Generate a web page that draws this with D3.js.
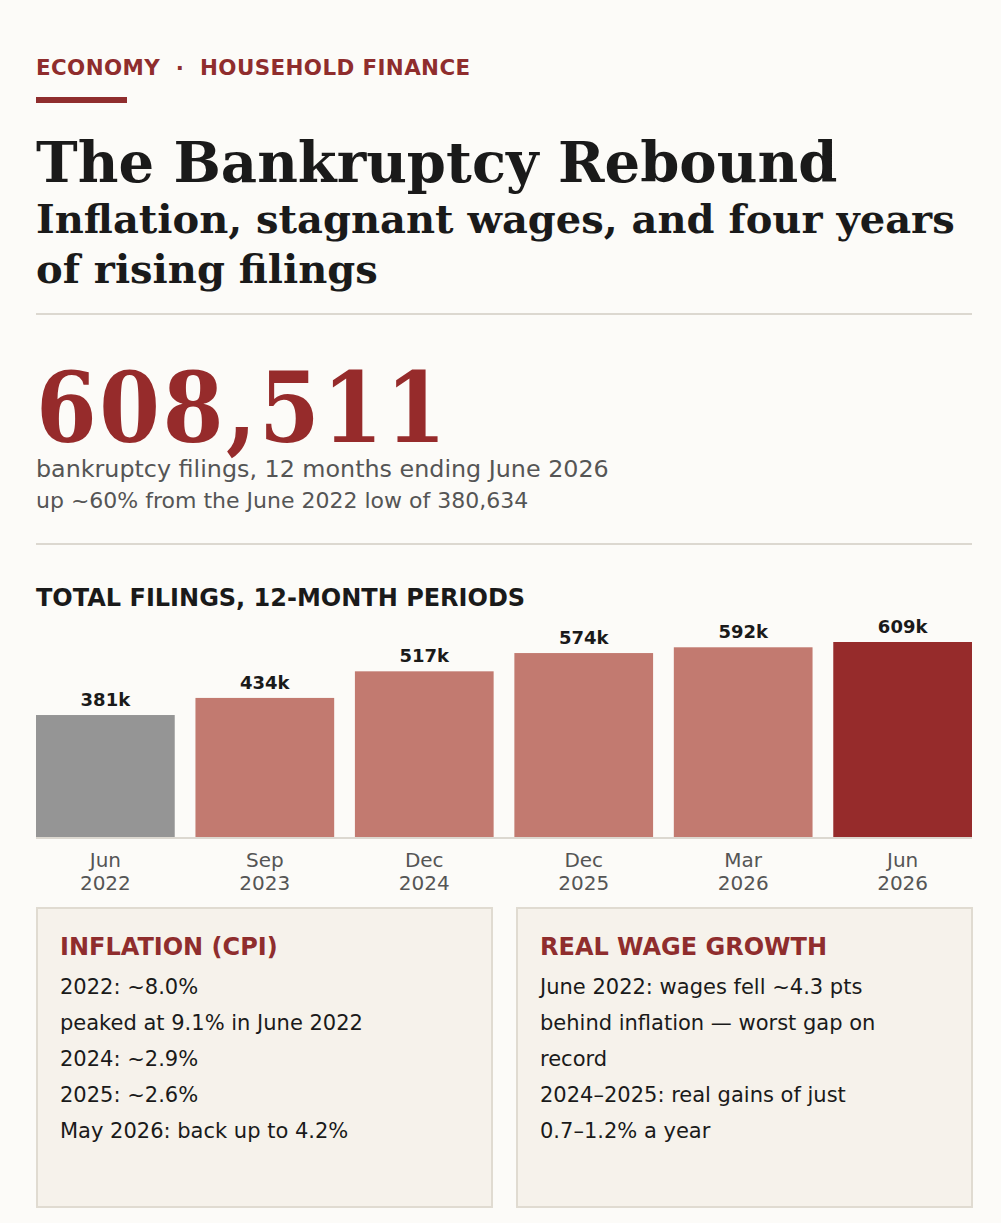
<!DOCTYPE html>
<html>
<head>
<meta charset="utf-8">
<script src="https://cdn.jsdelivr.net/npm/d3@7"></script>
<style>
  html, body { margin: 0; padding: 0; background: #fcfbf8; }
  svg { display: block; }
  .sans { font-family: "DejaVu Sans", sans-serif; }
  .serif { font-family: "DejaVu Serif", serif; }
</style>
</head>
<body>
<svg></svg>
<script>
const periods = ['Jun 2022', 'Sep 2023', 'Dec 2024', 'Dec 2025', 'Mar 2026', 'Jun 2026']
const filings = [380634, 434000, 517000, 574000, 592000, 608511]
const barLabels = ['381k', '434k', '517k', '574k', '592k', '609k']

const inflationNotes = [
  '2022: ~8.0%',
  'peaked at 9.1% in June 2022',
  '2024: ~2.9%',
  '2025: ~2.6%',
  'May 2026: back up to 4.2%'
]
const wageNotes = [
  'June 2022: wages fell ~4.3 pts behind inflation \u2014 worst gap on record',
  '2024\u20132025: real gains of just 0.7\u20131.2% a year'
]

const width = 1001
const height = 1223
const left = 36
const right = 972
const red = '#962b2b'
const ink = '#1a1a1a'

const svg = d3.select('svg')
  .attr('width', width)
  .attr('height', height)

svg.append('rect')
  .attr('width', width)
  .attr('height', height)
  .attr('fill', '#fcfbf8')

// Kicker + accent bar
svg.append('text')
  .attr('class', 'sans')
  .attr('x', left).attr('y', 75)
  .attr('font-size', 21.4).attr('font-weight', 'bold')
  .attr('fill', '#8f2d2d')
  .attr('letter-spacing', 0.4)
  .style('white-space', 'pre')
  .text('ECONOMY  \u00b7  HOUSEHOLD FINANCE')

svg.append('rect')
  .attr('x', left).attr('y', 97)
  .attr('width', 91).attr('height', 6)
  .attr('fill', '#8f2d2d')

// Headline
svg.append('text')
  .attr('class', 'serif')
  .attr('x', left).attr('y', 182)
  .attr('font-size', 56).attr('font-weight', 'bold')
  .attr('fill', ink)
  .text('The Bankruptcy Rebound')

const sub = svg.append('text')
  .attr('class', 'serif')
  .attr('font-size', 40).attr('font-weight', 'bold')
  .attr('fill', ink)
sub.append('tspan').attr('x', left).attr('y', 233)
  .text('Inflation, stagnant wages, and four years')
sub.append('tspan').attr('x', left).attr('y', 283)
  .text('of rising filings')

svg.append('line')
  .attr('x1', left).attr('x2', right)
  .attr('y1', 314).attr('y2', 314)
  .attr('stroke', '#dcd8d0').attr('stroke-width', 2)

// Big number
svg.append('text')
  .attr('class', 'serif')
  .attr('x', left).attr('y', 442)
  .attr('font-size', 97).attr('font-weight', 'bold')
  .attr('letter-spacing', 2.6)
  .style('font-stretch', 'condensed')
  .attr('fill', red)
  .text(d3.format(',')(filings[filings.length - 1]))

svg.append('text')
  .attr('class', 'sans')
  .attr('x', left).attr('y', 477)
  .attr('font-size', 23.8)
  .attr('fill', '#555')
  .text('bankruptcy filings, 12 months ending June 2026')

svg.append('text')
  .attr('class', 'sans')
  .attr('x', left).attr('y', 508)
  .attr('font-size', 22)
  .attr('fill', '#555')
  .text('up ~60% from the June 2022 low of ' + d3.format(',')(filings[0]))

svg.append('line')
  .attr('x1', left).attr('x2', right)
  .attr('y1', 544).attr('y2', 544)
  .attr('stroke', '#dcd8d0').attr('stroke-width', 2)

// Chart title
svg.append('text')
  .attr('class', 'sans')
  .attr('x', left).attr('y', 606)
  .attr('font-size', 24).attr('font-weight', 'bold')
  .attr('fill', ink)
  .text('TOTAL FILINGS, 12-MONTH PERIODS')

// Bar chart
const baseY = 837
const x = d3.scaleBand().domain(periods).range([left, right]).paddingInner(0.13).paddingOuter(0)
const y = d3.scaleLinear().domain([0, d3.max(filings)]).range([baseY, 642])

const colorFor = (i) => i === 0 ? '#959595' : (i === filings.length - 1 ? red : '#c27a70')

const g = svg.append('g')

g.selectAll('.bar')
  .data(filings)
  .enter().append('rect')
  .attr('class', 'bar')
  .attr('x', (d, i) => x(periods[i]))
  .attr('y', (d) => y(d))
  .attr('width', x.bandwidth())
  .attr('height', (d) => baseY - y(d))
  .attr('fill', (d, i) => colorFor(i))

g.selectAll('.val')
  .data(filings)
  .enter().append('text')
  .attr('class', 'val sans')
  .attr('x', (d, i) => x(periods[i]) + x.bandwidth() / 2)
  .attr('y', (d) => y(d) - 9)
  .attr('text-anchor', 'middle')
  .attr('font-size', 18).attr('font-weight', 'bold')
  .attr('fill', ink)
  .text((d, i) => barLabels[i])

g.append('line')
  .attr('x1', left).attr('x2', right)
  .attr('y1', baseY + 1).attr('y2', baseY + 1)
  .attr('stroke', '#dcd8d0').attr('stroke-width', 2)

// Period labels on two lines
const tick = g.selectAll('.tick')
  .data(periods)
  .enter().append('text')
  .attr('class', 'tick sans')
  .attr('text-anchor', 'middle')
  .attr('font-size', 20)
  .attr('fill', '#555')
tick.append('tspan')
  .attr('x', (d) => x(d) + x.bandwidth() / 2)
  .attr('y', 867)
  .text((d) => d.split(' ')[0])
tick.append('tspan')
  .attr('x', (d) => x(d) + x.bandwidth() / 2)
  .attr('y', 890)
  .text((d) => d.split(' ')[1])

// Note boxes
function wrap(textSel, lines, maxW, x0, y0, step) {
  let row = 0
  lines.forEach((line) => {
    const words = line.split(' ')
    let cur = []
    let ts = textSel.append('tspan').attr('x', x0).attr('y', y0 + row * step)
    words.forEach((w) => {
      cur.push(w)
      ts.text(cur.join(' '))
      if (ts.node().getComputedTextLength() > maxW && cur.length > 1) {
        cur.pop()
        ts.text(cur.join(' '))
        cur = [w]
        row++
        ts = textSel.append('tspan').attr('x', x0).attr('y', y0 + row * step).text(w)
      }
    })
    row++
  })
}

const boxes = [
  { title: 'INFLATION (CPI)', notes: inflationNotes, x0: 37 },
  { title: 'REAL WAGE GROWTH', notes: wageNotes, x0: 517 }
]
const boxW = 455
const boxTop = 908
const boxH = 299

boxes.forEach((b) => {
  const bg = svg.append('g')
  bg.append('rect')
    .attr('x', b.x0).attr('y', boxTop)
    .attr('width', boxW).attr('height', boxH)
    .attr('fill', '#f6f2eb')
    .attr('stroke', '#e0dbd1').attr('stroke-width', 2)
  bg.append('text')
    .attr('class', 'sans')
    .attr('x', b.x0 + 23).attr('y', 955)
    .attr('font-size', 24).attr('font-weight', 'bold')
    .attr('fill', '#8f2d2d')
    .text(b.title)
  const t = bg.append('text')
    .attr('class', 'sans')
    .attr('font-size', 21)
    .attr('fill', ink)
  wrap(t, b.notes, 365, b.x0 + 23, 994, 36)
})
</script>
</body>
</html>
